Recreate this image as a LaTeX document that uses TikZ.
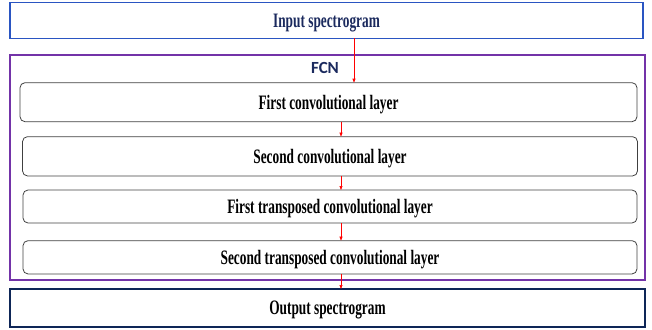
\documentclass[tikz,border=0pt]{standalone}
\usepackage{xcolor}
\usepackage{fontspec}
\setmainfont{Liberation Serif}[FakeStretch=0.65]
\newfontfamily\fcnfont{Carlito}
\usepackage{tikz}
\usetikzlibrary{arrows.meta, positioning}

\definecolor{inblue}{HTML}{2A55C2}
\definecolor{navy}{HTML}{1B2A5E}
\definecolor{fcnpurple}{HTML}{7333A8}
\definecolor{outnavy}{HTML}{0E2657}

\begin{document}
\begin{tikzpicture}[x=1pt, y=-1pt, >={Triangle[length=4pt, width=3pt]},
    layer/.style={draw=black!75, line width=0.8pt, rounded corners=5pt, inner sep=0pt, outer sep=0pt, text depth=0pt, font=\fontsize{20.5}{22}\selectfont\bfseries},
    flow/.style={->, red, line width=0.6pt}]
    \useasboundingbox (0,0) rectangle (652,329);

    % Nodes
    \node[draw=inblue, line width=1.4pt, inner sep=0pt, outer sep=0pt, minimum width=633pt, minimum height=35.5pt, text depth=0pt,
          text=navy, font=\fontsize{20.5}{22}\selectfont\bfseries] (input) at (326.5,20.5) {Input spectrogram};
    \node[draw=fcnpurple, line width=2pt, inner sep=0pt, outer sep=0pt, minimum width=635pt, minimum height=225pt] (fcn) at (327.5,167.5) {};
    \node[text=navy, font=\fcnfont\fontsize{17}{19}\selectfont\bfseries] (fcnlabel) at (325,68) {FCN};
    \node[layer, minimum width=617pt, minimum height=39pt] (conv1) at (328.5,102.2) {First convolutional layer};
    \node[layer, minimum width=615pt, minimum height=39.3pt] (conv2) at (330,156.3) {Second convolutional layer};
    \node[layer, minimum width=614pt, minimum height=33pt] (tconv1) at (330,206.5) {First transposed convolutional layer};
    \node[layer, minimum width=614pt, minimum height=33.3pt] (tconv2) at (330,257.3) {Second transposed convolutional layer};
    \node[draw=outnavy, line width=2.2pt, inner sep=0pt, outer sep=0pt, minimum width=635pt, minimum height=38pt, text depth=0pt,
          font=\fontsize{20.5}{22}\selectfont\bfseries] (output) at (327.5,308) {Output spectrogram};

    % Arrows
    \coordinate (a1) at (354,0);
    \coordinate (a2) at (341,0);
    \draw[flow] (input.south -| a1) -- (conv1.north -| a1);
    \draw[flow] (conv1.south -| a2) -- (conv2.north -| a2);
    \draw[flow] (conv2.south -| a2) -- (tconv1.north -| a2);
    \draw[flow] (tconv1.south -| a2) -- (tconv2.north -| a2);
    \draw[flow] (tconv2.south -| a2) -- (output.north -| a2);
\end{tikzpicture}
\end{document}
